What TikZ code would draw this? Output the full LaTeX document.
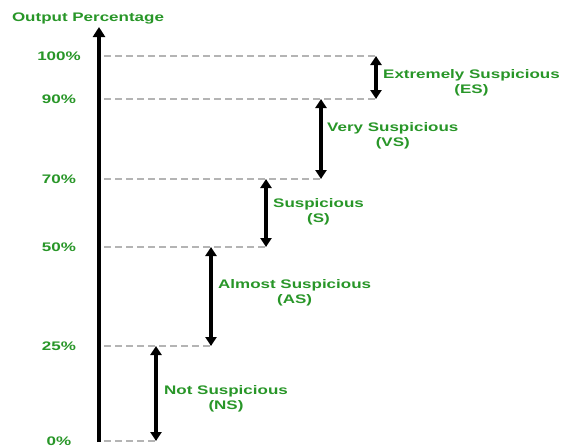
\documentclass[tikz,border=0pt]{standalone}
\usepackage{fontspec}
\setmainfont{Liberation Sans}[FakeStretch=1.37]
\usetikzlibrary{arrows.meta}
\definecolor{lblgreen}{RGB}{40,150,40}
\definecolor{dashgray}{RGB}{180,180,180}
\begin{document}
\begin{tikzpicture}[x=1pt,y=-1pt,
  lbl/.style={text=lblgreen,font=\bfseries\fontsize{12.4}{14.5}\selectfont,inner sep=0pt},
  pct/.style={lbl,anchor=center},
  guide/.style={draw=dashgray,line width=1.6pt,dash pattern=on 7pt off 4pt},
  rng/.style={draw=black,line width=3.4pt,{Triangle[length=9pt,width=11pt]}-{Triangle[length=9pt,width=11pt]}},
  desc/.style={lbl,align=center,anchor=west}]
\useasboundingbox (0,0) rectangle (563,447);
% axis
\coordinate (ax0) at (99,442);
\coordinate (axtop) at (99,27);
\draw[line width=3.6pt,-{Triangle[length=10pt,width=12pt]}] (ax0) -- (axtop);
\node[lbl,anchor=center] (title) at (88,18) {Output Percentage};
% levels
\foreach \n/\y/\t/\xe in {l100/56/100\%/376, l90/99/90\%/376, l70/179/70\%/321, l50/247/50\%/266, l25/346/25\%/211, l0/441/0\%/156}{
  \node[pct] (t\n) at (59,\y) {\t};
  \coordinate (s\n) at (104,\y);
  \coordinate (e\n) at (\xe,\y);
  \draw[guide] (s\n) -- (e\n);
}
% range arrows
\coordinate (a1) at (376,56); \coordinate (a2) at (376,99);
\draw[rng] (a1) -- (a2);
\coordinate (b1) at (321,99); \coordinate (b2) at (321,179);
\draw[rng] (b1) -- (b2);
\coordinate (c1) at (266,179); \coordinate (c2) at (266,247);
\draw[rng] (c1) -- (c2);
\coordinate (d1) at (211,247); \coordinate (d2) at (211,346);
\draw[rng] (d1) -- (d2);
\coordinate (f1) at (156,346); \coordinate (f2) at (156,441);
\draw[rng] (f1) -- (f2);
% descriptions
\node[desc] (es) at (383,83) {Extremely Suspicious\\(ES)};
\node[desc] (vs) at (327,136) {Very Suspicious\\(VS)};
\node[desc] (ss) at (273,212) {Suspicious\\(S)};
\node[desc] (as) at (218,293) {Almost Suspicious\\(AS)};
\node[desc] (ns) at (164,399) {Not Suspicious\\(NS)};
\end{tikzpicture}
\end{document}
